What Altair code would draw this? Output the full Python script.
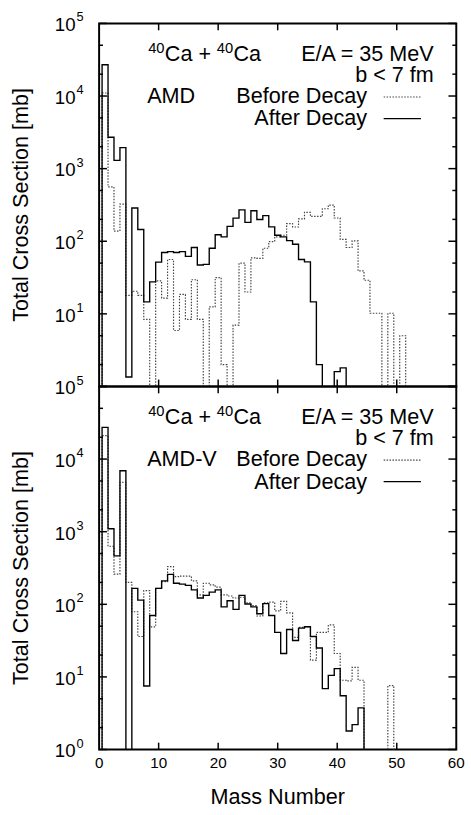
import altair as alt
import pandas as pd

# ---------------- data ----------------
mass_numbers = list(range(1, 52))

amd_after = [27000, 2700, 1300, 1950, 1.35, 287, 145, 14.6, 27.6, 51.5,
             70, 72, 70, 72, 62, 82, 47, 48, 80, 123,
             115, 160, 208, 270, 182, 263, 199, 225, 158, 121,
             115, 102, 91, 56, 52, 14.6, 2.0, 0, 0, 1.6,
             1.8, 0, 0, 0, 0, 0, 0, 0, 0, 0,
             0]
amd_before = [11000, 560, 138, 325, 18, 20.5, 18, 8.4, 0, 28.5,
              16.5, 56, 5.9, 18.5, 8.4, 29.5, 8.4, 0, 12.5, 31.5,
              2.0, 0, 7.0, 50, 20, 59, 58, 80, 99, 115,
              121, 175, 157, 203, 250, 220, 220, 280, 315, 209,
              106, 82, 101, 39, 29, 10.2, 10.2, 0, 10.2, 0,
              5.0]
amdv_after = [27300, 1100, 465, 6900, 0, 166, 114, 7.5, 70, 166,
              210, 258, 195, 190, 182, 158, 122, 133, 147, 158,
              92, 112, 85, 133, 101, 92, 74, 102, 70, 41,
              21, 45, 31.7, 47, 49, 36, 25, 6.9, 10.5, 13,
              5.5, 1.8, 2.2, 3.75, 0, 0, 0, 0, 0, 0,
              0]
amdv_before = [21000, 630, 260, 4800, 200, 79, 36, 154, 49, 166,
               205, 330, 240, 245, 245, 210, 135, 195, 185, 172,
               135, 130, 122, 125, 105, 96, 69, 105, 107, 81,
               110, 76, 35, 48, 49, 17, 41, 41, 52, 21,
               9, 8.8, 13.5, 9, 0, 0, 0, 0, 7.6, 0,
               0]

reaction_parts = ["40", "Ca + ", "40", "Ca"]
energy_text = "E/A = 35 MeV"
impact_text = "b < 7 fm"
model_labels = ["AMD", "AMD-V"]
legend_labels = ["Before Decay", "After Decay"]
y_title = "Total Cross Section [mb]"
x_title = "Mass Number"
x_tick_values = [0, 10, 20, 30, 40, 50, 60]
x_inner_ticks = [10, 20, 30, 40, 50]
y_major = [1, 10, 100, 1000, 10000, 100000]
y_minor = [2, 5, 20, 50, 200, 500, 2000, 5000, 20000, 50000]
y_label_exps = [0, 1, 2, 3, 4, 5]

# ---------------- styling ----------------
FONT = "Liberation Sans"
W, H = 364, 370
ZERO = 0.01
xs = alt.Scale(domain=[0, 60], nice=False, zero=False)
ys = alt.Scale(type="log", domain=[1, 100000], nice=False)


def step_table(values):
    rows = [{"A": 0.5, "v": ZERO, "o": 0}]
    k = 1
    for a, v in zip(mass_numbers, values):
        val = v if v > 0 else ZERO
        rows.append({"A": a - 0.5, "v": val, "o": k}); k += 1
        rows.append({"A": a + 0.5, "v": val, "o": k}); k += 1
    rows.append({"A": mass_numbers[-1] + 0.5, "v": ZERO, "o": k})
    return pd.DataFrame(rows)


def text_layer(txt, x, y, size=22, align="left", angle=0, baseline="alphabetic"):
    return alt.Chart(pd.DataFrame({"t": [txt]})).mark_text(
        align=align, baseline=baseline, font=FONT, fontSize=size, color="black", angle=angle
    ).encode(x=alt.value(x), y=alt.value(y), text="t:N")


def panel(after, before, model_label, show_x, label_exps):
    before_line = alt.Chart(step_table(before)).mark_line(
        clip=True, color="#444", strokeDash=[1.5, 1.5], strokeWidth=1.2
    ).encode(
        x=alt.X("A:Q", scale=xs, axis=None),
        y=alt.Y("v:Q", scale=ys, axis=None),
        order="o:Q",
    )
    after_line = alt.Chart(step_table(after)).mark_line(
        clip=True, color="black", strokeWidth=1.4
    ).encode(
        x=alt.X("A:Q", scale=xs, axis=None),
        y=alt.Y("v:Q", scale=ys, axis=None),
        order="o:Q",
    )

    # inward frame ticks
    ytick_df = pd.DataFrame({"val": y_major + y_minor,
                             "major": [1] * len(y_major) + [0] * len(y_minor)})
    ymaj = alt.Chart(ytick_df).transform_filter("datum.major == 1")
    ymin = alt.Chart(ytick_df).transform_filter("datum.major == 0")
    tick_layers = []
    for src, ln in ((ymaj, 8), (ymin, 4)):
        tick_layers.append(src.mark_rule(color="black", strokeWidth=1.5).encode(
            y=alt.Y("val:Q", scale=ys, axis=None), x=alt.value(0), x2=alt.value(ln)))
        tick_layers.append(src.mark_rule(color="black", strokeWidth=1.5).encode(
            y=alt.Y("val:Q", scale=ys, axis=None), x=alt.value(W), x2=alt.value(W - ln)))
    xt = alt.Chart(pd.DataFrame({"val": x_inner_ticks}))
    tick_layers.append(xt.mark_rule(color="black", strokeWidth=1.5).encode(
        x=alt.X("val:Q", scale=xs, axis=None), y=alt.value(H), y2=alt.value(H - 7)))
    tick_layers.append(xt.mark_rule(color="black", strokeWidth=1.5).encode(
        x=alt.X("val:Q", scale=xs, axis=None), y=alt.value(0), y2=alt.value(7)))

    # y tick labels 10^n
    lab_df = pd.DataFrame({"val": [10 ** e for e in label_exps],
                           "base": ["10"] * len(label_exps),
                           "exp": [str(e) for e in label_exps]})
    lab_base = alt.Chart(lab_df).mark_text(
        align="right", baseline="middle", font=FONT, fontSize=19, color="black", dy=2
    ).encode(y=alt.Y("val:Q", scale=ys, axis=None), x=alt.value(-24), text="base:N")
    lab_exp = alt.Chart(lab_df).mark_text(
        align="left", baseline="middle", font=FONT, fontSize=13, color="black", dy=-6
    ).encode(y=alt.Y("val:Q", scale=ys, axis=None), x=alt.value(-23), text="exp:N")

    layers = [before_line, after_line, *tick_layers, lab_base, lab_exp,
              text_layer(y_title, -72, H / 2, 22, align="center", angle=270)]

    if show_x:
        xlab_df = pd.DataFrame({"val": x_tick_values, "lab": [str(v) for v in x_tick_values]})
        layers.append(alt.Chart(xlab_df).mark_text(
            align="center", baseline="top", font=FONT, fontSize=15.5, color="black"
        ).encode(x=alt.X("val:Q", scale=xs, axis=None), y=alt.value(H + 7), text="lab:N"))
        layers.append(text_layer(x_title, W / 2, H + 56, 22, align="center"))

    # annotations
    layers += [
        text_layer(reaction_parts[0], 50, 30, 15),
        text_layer(reaction_parts[1], 67, 38),
        text_layer(reaction_parts[2], 120, 30, 15),
        text_layer(reaction_parts[3], 137, 38),
        text_layer(energy_text, 341, 38, align="right"),
        text_layer(impact_text, 341, 59.5, align="right"),
        text_layer(model_label, 49, 81.5),
        text_layer(legend_labels[0], 273, 81.5, align="right"),
        text_layer(legend_labels[1], 273, 104, align="right"),
    ]
    one = pd.DataFrame({"k": [0]})
    layers.append(alt.Chart(one).mark_rule(color="#444", strokeDash=[1.5, 1.5], strokeWidth=1.2).encode(
        x=alt.value(290), x2=alt.value(328), y=alt.value(75)))
    layers.append(alt.Chart(one).mark_rule(color="black", strokeWidth=1.4).encode(
        x=alt.value(290), x2=alt.value(328), y=alt.value(97)))

    return alt.layer(*layers).properties(width=W, height=H)


top = panel(amd_after, amd_before, model_labels[0], False, y_label_exps[1:])
bottom = panel(amdv_after, amdv_before, model_labels[1], True, y_label_exps)

chart = alt.vconcat(top, bottom, spacing=0, bounds="flush").properties(
    padding={"left": 10, "top": 3, "right": 5, "bottom": 5}
).configure_view(stroke="black", strokeWidth=2)

chart.save("out.html", embed_options={"renderer": "svg", "actions": False})
